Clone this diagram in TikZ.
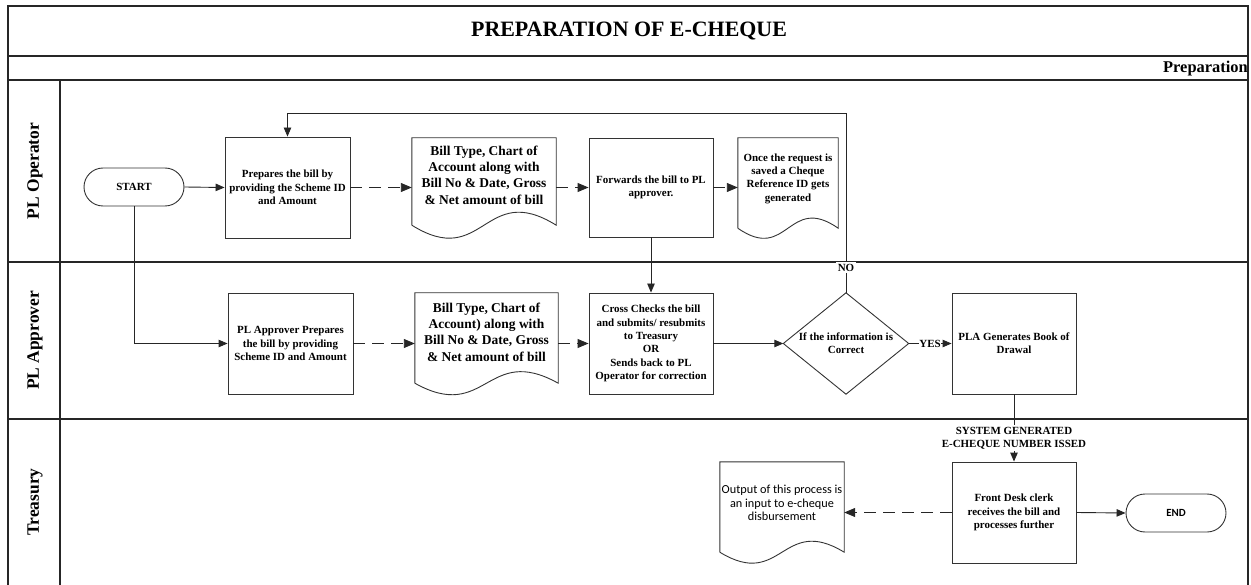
\documentclass[tikz,border=0pt]{standalone}
\usepackage{fontspec}
\setmainfont{Liberation Serif}
\newfontfamily\calibri{Carlito}
\usetikzlibrary{arrows.meta,calc}

% wavy-bottom document outline around an invisible node: #1 name, #2 wave control offset
\newcommand\wavydoc[2]{%
  \draw[shapeline] (#1.south west) -- (#1.north west) -- (#1.north east) -- (#1.south east)
    .. controls ($(#1.south)+(0,-#2)$) and ($(#1.south)+(0,#2)$) .. (#1.south west);}

\begin{document}
\begin{tikzpicture}[x=1bp,y=-1bp,
  frame/.style={line width=1.3bp, draw=black!85},
  shapeline/.style={line width=0.9bp, draw=black!80},
  txt/.style={font=\bfseries\fontsize{11}{13.4}\selectfont, align=center},
  bigtxt/.style={font=\bfseries\fontsize{13.5}{16.3}\selectfont, align=center},
  stepbox/.style={shapeline, txt, minimum width=125bp, minimum height=101bp, inner sep=1bp},
  termbox/.style={shapeline, rounded corners=19bp, minimum width=100bp, minimum height=38bp, inner sep=1bp},
  docbox/.style={inner sep=0pt, minimum height=#1},
  lanetitle/.style={font=\bfseries\fontsize{17.5}{20}\selectfont, rotate=90},
  conn/.style={line width=0.9bp, draw=black!85, -{Triangle[length=9bp,width=7.5bp]}},
  dconn/.style={conn, dash pattern=on 12bp off 7bp, -{Triangle[length=11bp,width=9bp]}},
  lbl/.style={txt, fill=white, inner sep=1.5bp}
]
\useasboundingbox (0,0) rectangle (1251,585);

% pool frame, header bands and lanes
\draw[frame] (8,590) -- (8,6) -- (1248,6) -- (1248,590);
\draw[frame] (8,56) -- (1248,56);
\draw[frame] (8,80) -- (1248,80);
\draw[frame] (8,262) -- (1248,262);
\draw[frame] (8,419) -- (1248,419);
\draw[frame] (60,80) -- (60,590);

\node[font=\bfseries\fontsize{22}{26}\selectfont] (title) at (629,31) {PREPARATION OF E-CHEQUE};
\node[font=\bfseries\fontsize{16.5}{20}\selectfont, anchor=east, inner sep=0pt] (phase) at (1248,69) {Preparation};
\node[lanetitle] (lane1) at (35,171) {PL Operator};
\node[lanetitle] (lane2) at (35,340.5) {PL Approver};
\node[lanetitle] (lane3) at (35,502) {Treasury};

% PL Operator lane
\node[termbox, txt] (start) at (134,187) {START};
\node[stepbox] (prep) at (287.5,187.5) {Prepares the bill by\\providing the Scheme ID\\and Amount};
\node[docbox=87bp, minimum width=144bp,
      label={[bigtxt, yshift=6.5bp]center:Bill Type, Chart of\\Account along with\\Bill No \& Date, Gross\\\& Net amount of bill}]
      (doc1) at (484,181.5) {};
\wavydoc{doc1}{45}
\node[stepbox, minimum width=124bp, minimum height=99bp] (fwd) at (651,187.5) {Forwards the bill to PL\\approver.};
\node[docbox=90bp, minimum width=100bp,
      label={[txt, yshift=4.5bp]center:Once the request is\\saved a Cheque\\Reference ID gets\\generated}]
      (doc2) at (788,183) {};
\wavydoc{doc2}{35}

% PL Approver lane
\node[stepbox] (appr) at (290.5,343.5) {PL Approver Prepares\\the bill by providing\\Scheme ID and Amount};
\node[docbox=90bp, minimum width=143bp,
      label={[bigtxt, yshift=6bp]center:Bill Type, Chart of\\Account) along with\\Bill No \& Date, Gross\\\& Net amount of bill}]
      (doc3) at (486.5,338) {};
\wavydoc{doc3}{40}
\node[stepbox, minimum width=124bp] (cross) at (651,343.5) {Cross Checks the bill\\and submits/ resubmits\\to Treasury\\OR\\Sends back to PL\\Operator for correction};
\node[inner sep=0pt, minimum width=125bp, minimum height=101bp] (dia) at (846,343.5) {};
\draw[shapeline] (dia.north) -- (dia.east) -- (dia.south) -- (dia.west) -- cycle;
\node[txt] (diatext) at (dia.center) {If the information is\\Correct};
\node[stepbox, minimum width=124bp] (pla) at (1014,343.5) {PLA Generates Book of\\Drawal};

% Treasury lane
\node[stepbox, minimum width=124bp] (front) at (1014,512.5) {Front Desk clerk\\receives the bill and\\processes further};
\node[termbox, font=\calibri\bfseries\fontsize{11}{13}\selectfont] (end) at (1176,513) {END};
\node[docbox=90bp, minimum width=124bp,
      label={[font=\calibri\fontsize{12.3}{13.7}\selectfont, align=center, yshift=4bp]center:Output of this process is\\an input to e-cheque\\disbursement}]
      (out) at (782,507) {};
\wavydoc{out}{38}

% connectors
\coordinate (loop) at (846,113);
\draw[conn] (start.east) -- (prep.west);
\draw[dconn] (prep.east) -- (prep.east -| doc1.west);
\draw[dconn] (fwd.west -| doc1.east) -- (fwd.west);
\draw[dconn] (fwd.east) -- (fwd.east -| doc2.west);
\draw[conn] (dia.north) -- node[lbl, pos=0.14] {NO} (loop) -| (prep.north);
\draw[conn] (fwd.south) -- (cross.north);
\draw[conn] (start.south) |- (appr.west);
\draw[dconn] (appr.east) -- (appr.east -| doc3.west);
\draw[dconn] (cross.west -| doc3.east) -- (cross.west);
\draw[conn] (cross.east) -- (dia.west);
\draw[conn] (dia.east) -- node[lbl, inner sep=0.5bp] {YES} (pla.west);
\draw[conn] (pla.south) -- node[lbl, pos=0.65] {SYSTEM GENERATED\\E-CHEQUE NUMBER ISSED} (front.north);
\draw[dconn] (front.west) -- (front.west -| out.east);
\draw[conn] (front.east) -- (end.west);
\end{tikzpicture}
\end{document}
